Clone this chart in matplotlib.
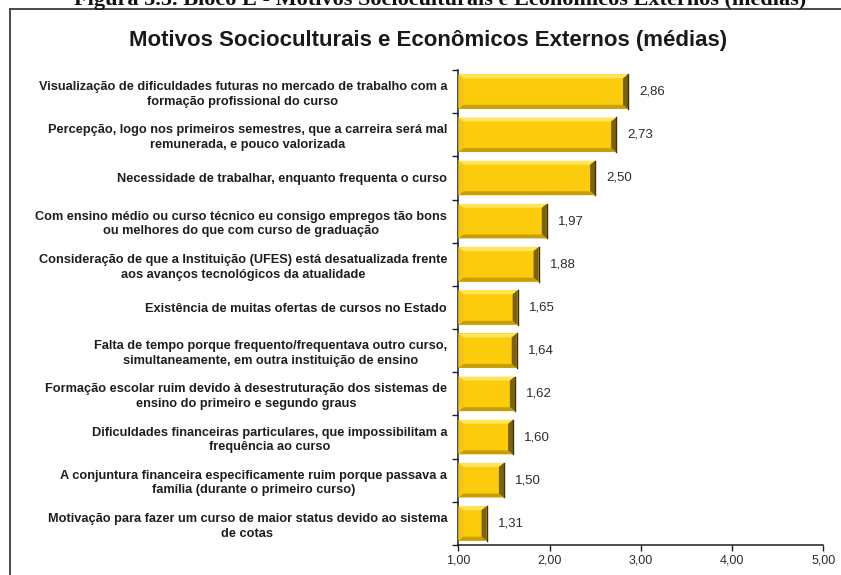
import matplotlib
matplotlib.use("Agg")
import matplotlib.pyplot as plt
from matplotlib.patches import Polygon
from matplotlib.lines import Line2D
from matplotlib.ticker import FixedLocator

plt.rcParams['font.family'] = ['Liberation Sans', 'DejaVu Sans']

categories = [
    "Visualização de dificuldades futuras no mercado de trabalho com a\nformação profissional do curso",
    "Percepção, logo nos primeiros semestres, que a carreira será mal\nremunerada, e pouco valorizada",
    "Necessidade de trabalhar, enquanto frequenta o curso",
    "Com ensino médio ou curso técnico eu consigo empregos tão bons\nou melhores do que com curso de graduação",
    "Consideração de que a Instituição (UFES) está desatualizada frente\naos avanços tecnológicos da atualidade",
    "Existência de muitas ofertas de cursos no Estado",
    "Falta de tempo porque frequento/frequentava outro curso,\nsimultaneamente, em outra instituição de ensino",
    "Formação escolar ruim devido à desestruturação dos sistemas de\nensino do primeiro e segundo graus",
    "Dificuldades financeiras particulares, que impossibilitam a\nfrequência ao curso",
    "A conjuntura financeira especificamente ruim porque passava a\nfamília (durante o primeiro curso)",
    "Motivação para fazer um curso de maior status devido ao sistema\nde cotas",
]
medias = [2.86, 2.73, 2.50, 1.97, 1.88, 1.65, 1.64, 1.62, 1.60, 1.50, 1.31]
x_ticks = [1, 2, 3, 4, 5]
x_ticklabels = ["1,00", "2,00", "3,00", "4,00", "5,00"]

W, H = 841, 575
fig = plt.figure(figsize=(W / 100, H / 100), dpi=100)
fig.patch.set_facecolor("white")

# chart frame (top and left edges visible)
frame_kw = dict(color="#4a4a4a", lw=1.4, transform=fig.transFigure)
fig.add_artist(Line2D([10 / W, 1.0], [1 - 9.3 / H, 1 - 9.3 / H], **frame_kw))
fig.add_artist(Line2D([10 / W, 10 / W], [0, 1 - 9.3 / H], **frame_kw))

# figure caption, running off the top edge
fig.text(440 / W, 1 - 5.0 / H,
         "Figura 5.5. Bloco E - Motivos Socioculturais e Econômicos Externos (médias)",
         ha="center", va="baseline", fontsize=16, fontweight="bold",
         family=["Liberation Serif", "DejaVu Serif"], color="#111111")

fig.text(428 / W, 1 - 40.5 / H,
         "Motivos Socioculturais e Econômicos Externos (médias)",
         ha="center", va="center", fontsize=16, fontweight="bold", color="#1a1a1a")

ax = fig.add_axes([458.3 / W, 30 / H, (823.3 - 458.3) / W, (545 - 70) / H])
ypos = list(range(len(categories)))
bar_h = 0.8
face = "#FCCB0B"
ax.barh(ypos, [v - 1 for v in medias], left=1, height=bar_h,
        color=face, edgecolor="none", zorder=2)

ax.set_xlim(1, 5)
ax.set_ylim(len(categories) - 0.5, -0.5)

# bevel shading on each bar
fig.canvas.draw()
bb = ax.get_window_extent()
px_x = bb.width / 4.0
px_y = bb.height / len(categories)
dx = 5.0 / px_x
dy = 4.0 / px_y
for y, v in zip(ypos, medias):
    x0, x1 = 1.0, v
    top, bot = y - bar_h / 2, y + bar_h / 2
    shades = [
        ([(x0, top), (x1, top), (x1 - dx, top + dy), (x0 + dx, top + dy)], "#FFE45C"),
        ([(x0, bot), (x1, bot), (x1 - dx, bot - dy), (x0 + dx, bot - dy)], "#C89E08"),
        ([(x0, top), (x0 + dx, top + dy), (x0 + dx, bot - dy), (x0, bot)], "#F2C41E"),
        ([(x1, top), (x1 - dx, top + dy), (x1 - dx, bot - dy), (x1, bot)], "#7C6210"),
    ]
    for pts, c in shades:
        ax.add_patch(Polygon(pts, closed=True, facecolor=c, edgecolor="none", zorder=3))
    ax.plot([x1, x1], [top, bot], color="#3d3208", lw=1.0, zorder=4)
    ax.annotate(f"{v:.2f}".replace(".", ","), xy=(v, y), xytext=(8, 0),
                textcoords="offset points", ha="left", va="center",
                fontsize=9.5, color="#2b2b2b")

# axes styling
for s in ("top", "right"):
    ax.spines[s].set_visible(False)
for s in ("left", "bottom"):
    ax.spines[s].set_color("#1e1e1e")
    ax.spines[s].set_linewidth(1.1)

ax.set_xticks(x_ticks)
ax.set_xticklabels(x_ticklabels, fontsize=9, color="#2b2b2b")
ax.tick_params(axis="x", direction="out", length=4, width=1.0, color="#1e1e1e", pad=3)

ax.set_yticks(ypos)
ax.set_yticklabels(categories, fontsize=9.2, fontweight="bold", color="#1e1e1e",
                   multialignment="center", linespacing=1.3)
ax.yaxis.set_minor_locator(FixedLocator([i - 0.5 for i in range(len(categories) + 1)]))
ax.tick_params(axis="y", which="major", length=0, pad=8)
ax.tick_params(axis="y", which="minor", direction="out", length=4, width=1.0, color="#1e1e1e")

fig.savefig("out.png", dpi=100)
